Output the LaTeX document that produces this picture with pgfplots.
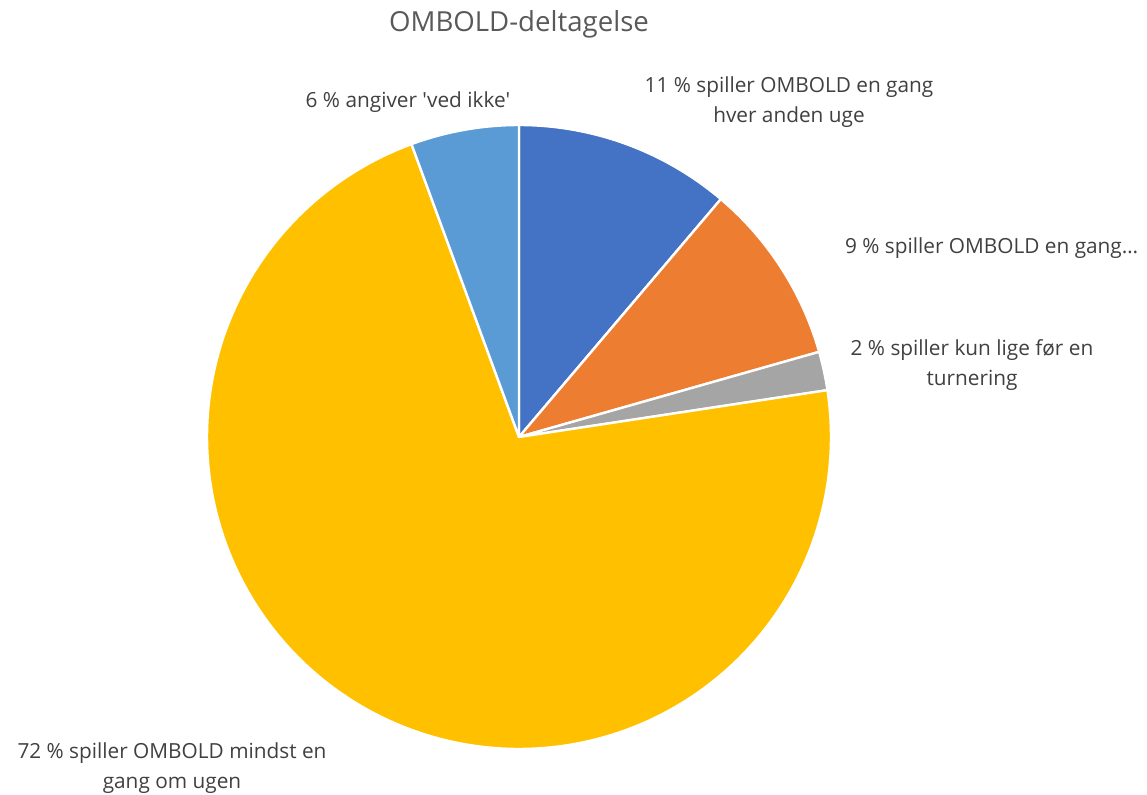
\documentclass[border=0pt]{standalone}
\usepackage{pgfplots}
\pgfplotsset{compat=1.18}
\usepackage{fontspec}
\setmainfont{Open Sans}
\definecolor{cA}{HTML}{4472C4}
\definecolor{cB}{HTML}{ED7D31}
\definecolor{cC}{HTML}{A5A5A5}
\definecolor{cD}{HTML}{FFC000}
\definecolor{cE}{HTML}{5B9BD5}
\definecolor{lbl}{HTML}{404040}
\definecolor{ttl}{HTML}{595959}
% shares in percent (clockwise from 12 o'clock)
\def\vA{11.2}\def\vB{9.4}\def\vC{2.0}\def\vD{71.8}\def\vE{5.6}
\pgfmathsetmacro\aA{90}
\pgfmathsetmacro\aB{\aA-3.6*\vA}
\pgfmathsetmacro\aC{\aB-3.6*\vB}
\pgfmathsetmacro\aD{\aC-3.6*\vC}
\pgfmathsetmacro\aE{\aD-3.6*\vD}
\pgfmathsetmacro\aF{\aE-3.6*\vE}
\def\cx{519}\def\cy{-437}\def\R{312}
\begin{document}
\begin{tikzpicture}
\begin{axis}[
  scale only axis, width=573.5pt, height=397pt,
  xmin=0, xmax=1147, ymin=-794, ymax=0,
  hide axis, clip=false,
  every axis plot/.append style={draw=white, line width=1.2pt, line join=round},
]
\addplot[fill=cA, domain=\aB:\aA, samples=60] ({\cx+\R*cos(x)},{\cy+\R*sin(x)}) -- (axis cs:\cx,\cy) -- cycle;
\addplot[fill=cB, domain=\aC:\aB, samples=60] ({\cx+\R*cos(x)},{\cy+\R*sin(x)}) -- (axis cs:\cx,\cy) -- cycle;
\addplot[fill=cC, domain=\aD:\aC, samples=20] ({\cx+\R*cos(x)},{\cy+\R*sin(x)}) -- (axis cs:\cx,\cy) -- cycle;
\addplot[fill=cD, domain=\aE:\aD, samples=240] ({\cx+\R*cos(x)},{\cy+\R*sin(x)}) -- (axis cs:\cx,\cy) -- cycle;
\addplot[fill=cE, domain=\aF:\aE, samples=30] ({\cx+\R*cos(x)},{\cy+\R*sin(x)}) -- (axis cs:\cx,\cy) -- cycle;
\begin{scope}[every node/.style={text=lbl, font=\fontsize{10.4pt}{14.8pt}\selectfont, align=center}]
\node at (axis cs:519,-24) [text=ttl, font=\fontsize{13.8pt}{16pt}\selectfont] {OMBOLD-deltagelse};
\node at (axis cs:789,-102) {11 \% spiller OMBOLD en gang\\hver anden uge};
\node[anchor=west] at (axis cs:838,-248) {9 \% spiller OMBOLD en gang\ldots};
\node at (axis cs:972,-365) {2 \% spiller kun lige før en\\turnering};
\node at (axis cs:408,-102) {6 \% angiver \textquotesingle ved ikke\textquotesingle};
\node at (axis cs:172,-768) {72 \% spiller OMBOLD mindst en\\gang om ugen};
\end{scope}
\end{axis}
\pgfresetboundingbox
\path[use as bounding box] (current axis.south west) rectangle (current axis.north east);
\end{tikzpicture}
\end{document}
